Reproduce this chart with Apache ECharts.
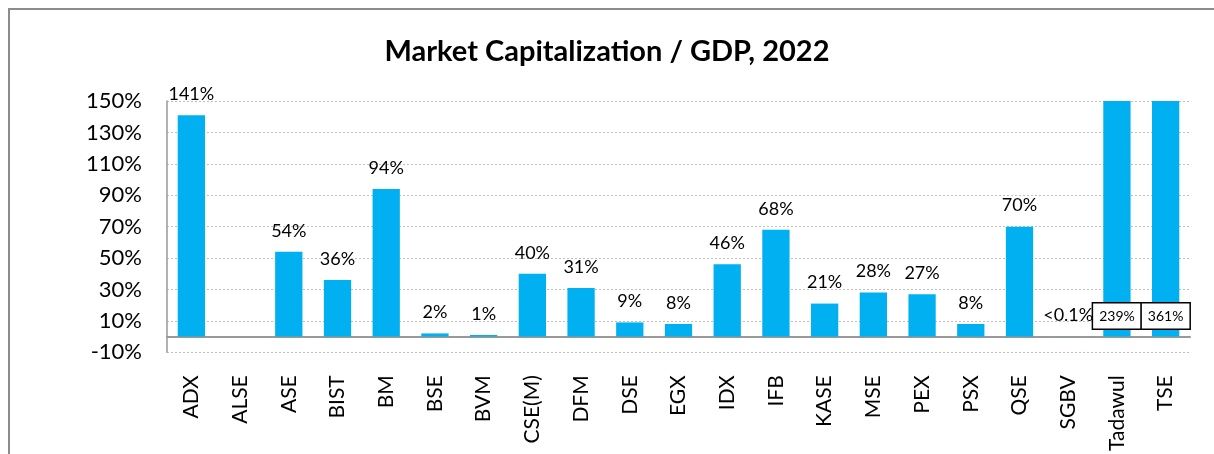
<!DOCTYPE html>
<html>
<head>
<meta charset="utf-8">
<script src="https://cdn.jsdelivr.net/npm/echarts@6/dist/echarts.min.js"></script>
<style>
  html, body { margin: 0; padding: 0; background: #fff; }
  #box { width: 1214px; height: 454px; }
</style>
</head>
<body>
<div id="box"></div>
<script>
const categories = ['ADX', 'ALSE', 'ASE', 'BIST', 'BM', 'BSE', 'BVM', 'CSE(M)', 'DFM', 'DSE', 'EGX',
    'IDX', 'IFB', 'KASE', 'MSE', 'PEX', 'PSX', 'QSE', 'SGBV', 'Tadawul', 'TSE']
const capToGdp = [141, null, 54, 36, 94, 2, 1, 40, 31, 9, 8, 46, 68, 21, 28, 27, 8, 70, 0.05, 239, 361]
const yMin = -10
const yMax = 150
const yStep = 20

const FONT = 'Lato'

const myChart = echarts.init(document.getElementById('box'))

// bars over the axis max are cut at 150% and carry a boxed label
const barData = capToGdp.map(v => {
    if (v != null && v > yMax) {
        return {
            value: v,
            label: {
                position: 'insideBottom',
                distance: 8,
                formatter: '{box|' + v + '%}',
                rich: {
                    box: {
                        fontFamily: FONT,
                        fontSize: 14,
                        color: '#000',
                        backgroundColor: '#fff',
                        borderColor: '#000',
                        borderWidth: 1.5,
                        padding: [6, 6, 5, 6]
                    }
                }
            }
        }
    }
    return v
})

myChart.setOption({
    animation: false,
    graphic: [{
        type: 'rect',
        shape: { x: 9, y: 9, width: 1400, height: 600 },
        style: { fill: 'none', stroke: '#8c8c8c', lineWidth: 2 },
        silent: true
    }],
    title: {
        text: 'Market Capitalization / GDP, 2022',
        left: 'center',
        top: 32,
        textStyle: { fontFamily: FONT, fontSize: 29, fontWeight: 'bold', color: '#000' }
    },
    grid: { left: 167, right: 24, top: 101, bottom: 101 },
    xAxis: {
        type: 'category',
        data: categories,
        axisLine: { onZero: true, lineStyle: { color: '#999', width: 2 } },
        axisTick: { show: false },
        axisLabel: { rotate: 90, margin: 23, fontFamily: FONT, fontSize: 21, color: '#000', interval: 0 }
    },
    yAxis: {
        type: 'value',
        min: yMin,
        max: yMax,
        interval: yStep,
        axisLine: { show: true, lineStyle: { color: '#999', width: 1.5 } },
        axisTick: { show: false },
        axisLabel: { formatter: '{value}%', margin: 25, fontFamily: FONT, fontSize: 22, color: '#000' },
        splitLine: { lineStyle: { color: '#bfbfbf', type: [2, 2], width: 1 } }
    },
    series: [{
        type: 'bar',
        data: barData,
        barWidth: '56%',
        clip: true,
        itemStyle: { color: '#00B0F0' },
        label: {
            show: true,
            position: 'top',
            distance: 12,
            fontFamily: FONT,
            fontSize: 18,
            color: '#000',
            formatter: p => p.value == null ? '' : (p.value < 0.1 ? '<0.1%' : p.value + '%')
        }
    }]
})
</script>
</body>
</html>
